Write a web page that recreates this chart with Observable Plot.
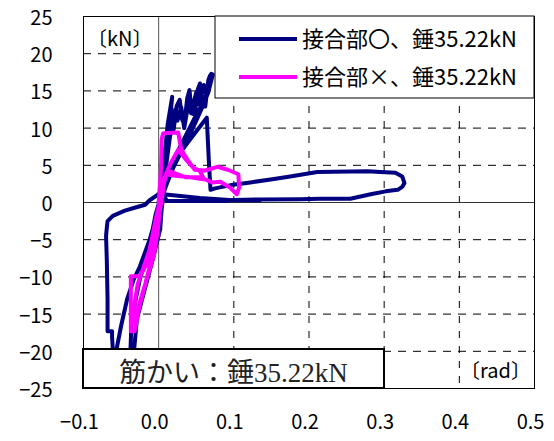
<!DOCTYPE html>
<html>
<head>
<meta charset="utf-8">
<script src="https://cdn.jsdelivr.net/npm/d3@7"></script>
<script src="https://cdn.jsdelivr.net/npm/@observablehq/plot@0.6"></script>
<style>
  html, body { margin: 0; padding: 0; background: #fff; }
  #chart { width: 554px; height: 441px; }
</style>
</head>
<body>
<div id="chart"></div>
<script>
// ---------- data ----------
const xTicks = [-0.1, 0.0, 0.1, 0.2, 0.3, 0.4, 0.5];
const yTicks = [-25, -20, -15, -10, -5, 0, 5, 10, 15, 20, 25];
const xGrid = [0.1, 0.2, 0.3, 0.4];
const yGrid = [-20, -15, -10, -5, 5, 10, 15, 20];

const seriesNames = ["接合部〇、錘35.22kN", "接合部×、錘35.22kN"];
const unitY = "〔kN〕";
const unitX = "〔rad〕";
const noteText = "筋かい：錘35.22kN";

// 接合部〇 (navy)
const blueX = [0,0.006,0.003,-0.002,-0.012,-0.018,-0.032,-0.045,-0.061,-0.068,-0.069,-0.070,-0.069,-0.068,-0.068,-0.062,-0.062,-0.061,-0.059,-0.057,-0.056,-0.050,-0.042,-0.033,-0.025,-0.012,-0.003,0.002,
  0.004,0.008,0.012,0.018,0.014,0.009,0.005,0.002,
  0.006,0.010,0.016,0.020,0.024,0.028,0.031,0.034,0.038,0.041,0.044,0.048,0.052,0.055,0.058,0.062,0.066,0.068,0.070,0.072,0.066,0.058,0.050,0.040,0.030,0.020,0.012,0.004,
  0.010,0.015,0.022,0.025,0.030,0.034,0.040,0.043,0.050,0.053,0.060,0.063,0.068,0.060,0.048,0.036,0.024,0.012,0.002,
  -0.004,-0.012,-0.025,-0.036,-0.038,-0.034,-0.029,-0.021,-0.008,0.002,0.004,
  0.007,0.010,0.022,0.042,0.064,0.067,0.069,0.075,0.099,0.122,0.149,0.175,0.211,0.278,0.295,0.315,0.324,0.327,0.324,0.318,0.302,0.282,0.255,0.215,0.188,0.135,0.099,0.090,0.055,0.011,0.006,0.055,0.099,0.135];
const blueY = [0,3.1,1.5,1.0,0.3,-0.3,-0.7,-1.1,-1.8,-2.5,-3.4,-4.5,-7.7,-13,-17.3,-17.3,-18.1,-19.7,-21.7,-22.1,-19.7,-16.6,-13,-10.3,-8.6,-5.0,-1.8,0,
  2.4,6.4,10.5,14.2,10.0,5.5,2.0,0.4,
  4.0,7.5,11.5,9.8,13.0,13.8,11.2,10.5,14.0,15.1,12.0,11.8,15.2,16.0,13.0,12.9,16.4,17.0,17.3,17.2,14.8,12.8,11.0,8.8,6.8,4.8,2.8,0.6,
  5.0,8.8,12.5,11.0,12.8,10.0,13.6,12.0,14.8,13.2,15.8,14.2,16.6,13.6,11.4,9.0,6.6,3.6,0.5,
  -1.6,-5.6,-10.3,-15.7,-21.1,-21.3,-15.7,-12.6,-7.7,-3.6,-0.9,
  1.7,4.4,5.8,8.5,11.4,5.1,1.7,1.9,2.4,2.7,3.1,3.5,4.1,4.2,4.1,4.0,3.5,2.6,2.1,1.7,1.5,1.1,0.5,0.5,0.45,0.4,0.35,0.2,0.2,0.2,1.1,0.6,0.3,0.3];

// 接合部× (magenta)
const magX = [0,0.003,0.004,0.006,0.026,0.030,0.038,0.048,0.062,0.078,0.092,0.106,0.107,0.104,0.095,0.082,0.071,0.062,0.042,0.022,0.010,
  0.002,-0.001,-0.009,-0.016,-0.025,-0.037,-0.037,-0.032,-0.025,-0.016,-0.006,-0.001,0.002,
  0.004,0.015,0.026,0.036,0.046,0.055,0.059,0.035,0.015,0.006,0.002,
  -0.004,-0.012,-0.020,-0.028,-0.033,-0.033,-0.028,-0.018,-0.010,-0.004,0.002,0.006];
const magY = [0,4.4,8.5,9.3,9.4,7.1,5.8,4.4,4.3,4.8,4.4,3.8,2.0,1.1,2.0,2.8,2.7,3.1,3.4,3.6,3.8,
  0.4,-1.6,-5.6,-8.3,-9.9,-9.9,-17.3,-17.3,-13.7,-10.3,-7.0,-3.6,-0.3,
  2.4,5.1,7.1,5.8,4.7,4.2,3.4,3.4,4.2,3.1,0.4,
  -2.3,-6.3,-8.7,-11.0,-14.4,-16.4,-14.4,-11.0,-7.9,-4.3,-0.9,1.7];

const colors = ["#000080", "#ff00ff"];

const blue = blueX.map((x, i) => ({x, y: blueY[i]}));
const mag = magX.map((x, i) => ({x, y: magY[i]}));

// ---------- chart ----------
const fontSans = "'Noto Sans CJK JP', 'Noto Sans', sans-serif";
const fontSerif = "'Liberation Serif', 'DejaVu Serif', 'Noto Sans CJK JP', serif";
const minus = s => s.replace("-", "\u2212");
const M = {left: 83, right: 20, top: 16, bottom: 53};
const W = 554, H = 441;

const chart = Plot.plot({
  width: W,
  height: H,
  marginLeft: M.left,
  marginRight: M.right,
  marginTop: M.top,
  marginBottom: M.bottom,
  style: {fontFamily: fontSans, fontSize: "20px", background: "#fff", color: "#000"},
  x: {domain: [-0.1, 0.5]},
  y: {domain: [-25, 25]},
  marks: [
    Plot.ruleX(xGrid, {stroke: "#000", strokeWidth: 1, strokeDasharray: "7,8", strokeOpacity: 1}),
    Plot.ruleY(yGrid, {stroke: "#000", strokeWidth: 1, strokeDasharray: "8,7", strokeOpacity: 1}),
    Plot.ruleX([0], {stroke: "#555", strokeWidth: 1}),
    Plot.ruleY([0], {stroke: "#333", strokeWidth: 1}),
    Plot.line(blue, {x: "x", y: "y", stroke: colors[0], strokeWidth: 4, strokeLinejoin: "round", strokeLinecap: "round", clip: true}),
    Plot.line(mag, {x: "x", y: "y", stroke: colors[1], strokeWidth: 4, strokeLinejoin: "round", strokeLinecap: "round", clip: true}),
    Plot.frame({stroke: "#000", strokeWidth: 1}),
    Plot.axisX({ticks: xTicks, tickSize: 0, tickPadding: 26, tickFormat: d => minus(d.toFixed(1)), fontSize: 20, dx: -4, label: null}),
    Plot.axisY({ticks: yTicks, tickSize: 0, tickPadding: 31, tickFormat: d => minus(String(d)), fontSize: 20, dy: 2, label: null})
  ]
});

document.getElementById("chart").appendChild(chart);

// ---------- overlays: legend, unit labels, note box ----------
const svgSel = d3.select(chart);
const pLeft = M.left, pRight = W - M.right, pTop = M.top, pBottom = H - M.bottom;

// legend box
const lg = svgSel.append("g").attr("text-anchor", "start");
const lgLeft = 215, lgBottom = 98;
lg.append("rect").attr("x", lgLeft).attr("y", pTop).attr("width", pRight - lgLeft).attr("height", lgBottom - pTop)
  .attr("fill", "#fff").attr("stroke", "#000").attr("stroke-width", 1);
[39, 77].forEach((yy, i) => {
  lg.append("line").attr("x1", 239).attr("x2", 297).attr("y1", yy).attr("y2", yy)
    .attr("stroke", colors[i]).attr("stroke-width", 4);
  lg.append("text").attr("x", 302).attr("y", yy).attr("dy", "0.35em").attr("text-anchor", "start")
    .attr("font-family", fontSans).attr("font-size", 22).attr("fill", "#000")
    .text(seriesNames[i]);
});

// unit labels
svgSel.append("text").attr("x", pLeft + 4).attr("y", 39).attr("dy", "0.35em").attr("text-anchor", "start")
  .attr("font-family", fontSans).attr("font-size", 20).attr("fill", "#000").text(unitY);
svgSel.append("text").attr("x", pRight - 3).attr("y", 371).attr("dy", "0.35em").attr("text-anchor", "end")
  .attr("font-family", fontSans).attr("font-size", 20).attr("fill", "#000").text(unitX);

// note box
const nb = svgSel.append("g");
const nbRight = 384, nbTop = 349;
nb.append("rect").attr("x", pLeft).attr("y", nbTop).attr("width", nbRight - pLeft).attr("height", pBottom - nbTop)
  .attr("fill", "#fff").attr("stroke", "#000").attr("stroke-width", 2);
nb.append("text").attr("x", (pLeft + nbRight) / 2).attr("y", 382).attr("text-anchor", "middle")
  .attr("font-family", fontSerif).attr("font-size", 27).attr("fill", "#222").text(noteText);
</script>
</body>
</html>
